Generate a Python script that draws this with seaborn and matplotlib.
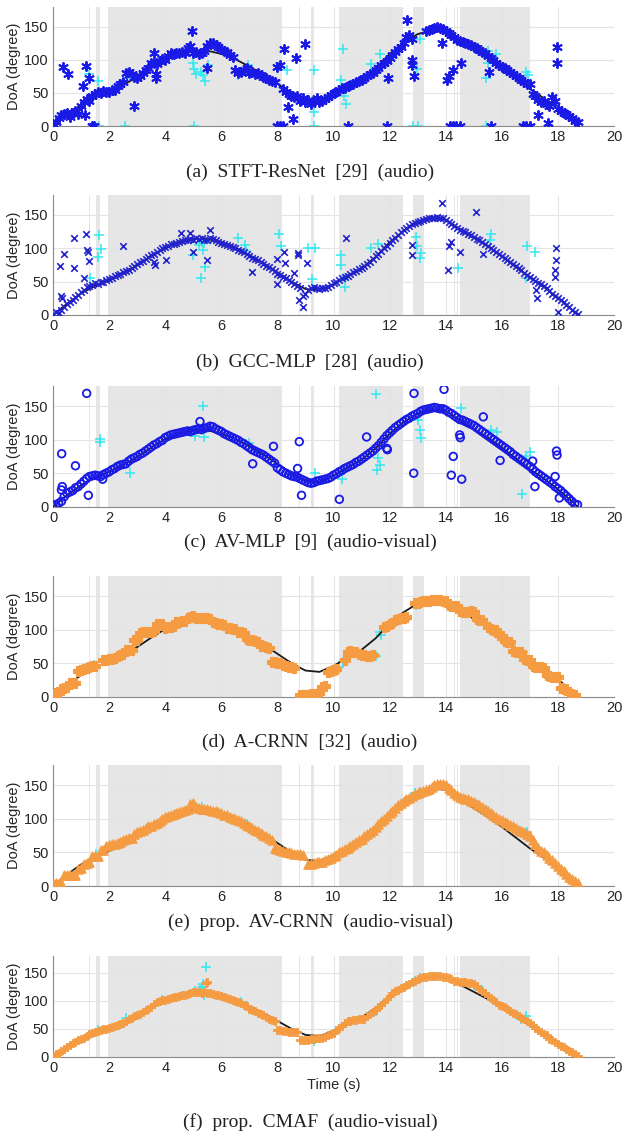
import numpy as np
import pandas as pd
import seaborn as sns
import matplotlib.pyplot as plt

nan = np.nan

# frame times (100 ms hop)
t_frame = np.round(np.arange(0, 18.75, 0.1), 1)

# ground truth DoA
gt_t = [0, 0.5, 1, 1.5, 2, 2.5, 3, 3.5, 4, 4.5, 5, 5.5, 6, 6.5, 7, 7.5, 8, 8.5, 9, 9.5,
        10, 10.5, 11, 11.5, 12, 12.5, 13, 13.5, 14, 14.5, 15, 15.5, 16, 16.5, 17, 17.5, 18, 18.5, 18.7]
gt_doa = [0, 17, 32, 44, 52, 62, 74, 88, 101, 109, 114, 114, 109, 101, 90, 78, 64, 50, 39, 37,
          46, 58, 70, 87, 109, 126, 139, 145, 143, 129, 116, 103, 88, 72, 56, 42, 26, 8, 0]

# shaded (speaker not visible) intervals
spans = [(1.27, 1.31), (1.55, 1.68), (1.97, 8.15), (8.76, 8.80), (9.20, 9.32),
         (10.18, 12.48), (12.85, 13.22), (14.30, 14.34), (14.40, 14.44), (14.52, 17.0)]

# (a) STFT-ResNet
a_est = [3, 6, 12, 16, 18, 19, 14, 20, 22, 18,
         30, 36, 41, 38, 46, 49, 52, 50, 53, 51,
         52, 55, 54, 60, 63, 66, 80, 82, 78, 74,
         72, 76, 80, 84, 88, 95, 96, 94, 98, 102,
         100, 106, 110, 109, 111, 110, 112, 110, 118, 121,
         110, 112, 109, 110, 113, 121, 126, 125, 123, 119,
         116, 114, 112, 108, 105, 84, 80, 82, 84, 88,
         80, 81, 79, 80, 77, 74, 73, 70, 68, 66,
         90, 93, 56, 52, 48, 45, 44, 46, 38, 42,
         36, 40, 34, 38, 42, 36, 38, 41, 44, 47,
         50, 52, 55, 57, 58, 60, 62, 64, 66, 68,
         70, 72, 76, 78, 80, 84, 88, 92, 96, 99,
         103, 108, 112, 116, 120, 126, 134, 138, 132, nan,
         nan, nan, nan, 143, 145, 147, 148, 149, 148, 146,
         144, 140, 138, 134, 130, 128, 127, 126, 124, 122,
         120, 118, 115, 112, 110, 106, 103, 100, 96, 93,
         90, 88, 85, 82, 78, 75, 72, 70, 66, 64,
         63, 48, 45, 40, 36, 38, 34, 30, 44, 38,
         25, 22, 20, 18, 15, 12, 8, 6]
a_out = [(0.35, 89), (0.52, 79), (1.06, 61), (1.18, 91), (1.3, 73), (1.14, 16), (1.38, 0), (1.45, 0),
         (0.05, 2), (2.9, 31), (3.61, 111), (3.67, 79), (3.67, 72), (4.94, 144), (5.49, 87),
         (8.0, 0), (8.1, 0), (8.2, 0), (8.25, 117), (8.37, 29), (8.57, 11), (8.66, 103), (8.98, 124),
         (10.5, 0), (11.9, 0), (11.93, 73), (12.62, 160), (12.8, 100), (12.8, 93), (12.86, 76),
         (13.86, 126), (14.05, 70), (14.1, 75), (14.25, 84), (14.55, 95), (14.15, 0), (14.25, 0),
         (14.35, 0), (14.5, 0), (15.56, 81), (15.6, 0), (16.75, 0), (16.85, 0), (17.0, 0),
         (17.3, 16), (17.66, 5), (17.97, 120), (17.97, 95)]
a_cyan = [(1.3, 78), (1.6, 68), (1.65, 0), (2.57, 0), (2.65, 72), (4.98, 96), (5.04, 86), (5.1, 78),
          (5.27, 82), (5.33, 77), (5.42, 68), (5.42, 112), (5.52, 92), (5.04, 0), (6.61, 77),
          (6.94, 93), (8.35, 85), (9.3, 84), (9.3, 21), (9.3, 0), (10.33, 116), (10.25, 69),
          (10.38, 46), (10.45, 34), (11.35, 94), (11.65, 109), (12.85, 0), (13.0, 0), (12.97, 86),
          (13.1, 131), (15.5, 114), (15.5, 95), (15.8, 109), (15.44, 73), (15.45, 0),
          (16.88, 81), (16.92, 77)]

# (b) GCC-MLP
b_est = [2, 4, 3, 8, 12, 16, 19, 22, 27, 30,
         35, 38, 42, 44, 45, 48, 47, 50, 49, 52,
         54, 56, 58, 60, 62, 64, 66, 68, 70, 74,
         76, 79, 81, 84, 87, 90, 92, 95, 97, 100,
         102, 104, 106, 107, 108, 110, 111, 112, 113, 114,
         113, 115, 114, 116, 113, 112, 115, 114, 112, 110,
         108, 107, 105, 104, 102, 100, 98, 96, 94, 91,
         88, 86, 84, 82, 79, 77, 74, 72, 69, 66,
         62, 60, 57, 55, 52, 50, 47, 44, 40, 28,
         32, 38, 40, 42, 40, 39, 40, 41, 42, 45,
         48, 50, 52, 55, 57, 59, 61, 64, 66, 69,
         71, 74, 77, 80, 84, 88, 92, 96, 100, 104,
         108, 112, 116, 120, 124, 128, 131, 133, 136, 138,
         140, 141, 142, 144, 145, 146, 146, 147, 146, 145,
         143, 140, 137, 134, 131, 128, 126, 124, 122, 120,
         117, 114, 112, 109, 106, 103, 100, 97, 94, 91,
         88, 85, 82, 79, 76, 73, 70, 67, 63, 60,
         57, 54, 51, 48, 46, 43, 40, 36, 32, 29,
         26, 22, 19, 15, 12, 8, 5, 2]
b_out = [(0.4, 92), (0.26, 73), (0.32, 25), (0.3, 28), (0.76, 116), (0.74, 71), (1.18, 122), (1.2, 97),
         (1.26, 94), (1.3, 81), (1.12, 55), (2.49, 103), (3.6, 80), (3.65, 75), (4.03, 83), (4.56, 123),
         (4.9, 123), (4.98, 94), (5.49, 83), (5.61, 128), (7.08, 65), (8.22, 94), (8.0, 46), (8.0, 84),
         (8.27, 78), (8.6, 63), (8.75, 93), (8.75, 90), (8.9, 12), (8.78, 22), (9.07, 78),
         (10.45, 116), (12.79, 105), (12.79, 90), (13.86, 168), (15.08, 154), (14.07, 67),
         (14.1, 103), (14.2, 110), (14.5, 95), (15.33, 92), (17.22, 37), (17.25, 25), (17.93, 100),
         (17.93, 82), (17.9, 68), (17.9, 57), (18.0, 5)]
b_cyan = [(1.65, 120), (1.7, 99), (1.6, 87), (1.33, 55), (5.2, 105), (5.3, 110), (5.35, 98), (5.4, 108),
          (5.42, 72), (5.27, 55), (5.0, 90), (6.6, 116), (6.85, 105), (6.88, 96), (8.07, 122),
          (8.13, 104), (9.1, 100), (9.33, 101), (9.25, 54), (10.25, 90), (10.25, 75), (10.36, 55),
          (10.4, 42), (11.35, 100), (11.6, 106), (12.94, 117), (12.99, 103), (13.1, 85), (13.12, 93),
          (14.43, 71), (15.6, 121), (15.58, 113), (16.9, 103), (17.2, 95), (16.85, 56)]

# (c) AV-MLP
c_est = [2, 3, 5, 8, 15, 20, 22, 24, 28, 30,
         34, 38, 42, 45, 46, 47, 46, 45, 48, 50,
         52, 55, 57, 60, 62, 63, 64, 68, 71, 73,
         75, 78, 80, 83, 86, 89, 92, 94, 97, 99,
         103, 105, 107, 108, 109, 110, 111, 112, 113, 112,
         114, 115, 116, 115, 117, 118, 120, 119, 116, 114,
         112, 109, 107, 105, 103, 101, 99, 96, 94, 91,
         88, 85, 83, 81, 79, 77, 74, 71, 68, 65,
         58, 55, 52, 50, 48, 46, 45, 44, 42, 40,
         38, 36, 35, 36, 38, 39, 40, 41, 42, 44,
         47, 49, 52, 54, 57, 59, 61, 63, 66, 68,
         71, 74, 77, 80, 83, 87, 91, 96, 101, 106,
         110, 114, 118, 121, 124, 127, 130, 132, 135, 137,
         139, 142, 144, 145, 146, 147, 148, 147, 146, 146,
         144, 141, 139, 136, 133, 130, 129, 127, 125, 123,
         121, 118, 115, 112, 109, 106, 103, 100, 97, 94,
         91, 88, 85, 82, 78, 75, 72, 69, 66, 63,
         60, 56, 52, 49, 46, 43, 40, 37, 34, 30,
         27, 24, 20, 16, 12, 8, 4, 3]
c_out = [(1.2, 169), (0.31, 79), (0.8, 61), (1.26, 17), (0.33, 30), (0.3, 25), (1.77, 41), (5.24, 127),
         (7.12, 64), (7.86, 90), (8.78, 97), (8.86, 17), (8.72, 57), (10.21, 11), (11.18, 104),
         (11.9, 87), (11.92, 85), (12.87, 169), (12.86, 50), (13.94, 175), (14.27, 75), (14.2, 47),
         (14.57, 41), (14.5, 107), (14.52, 103), (15.34, 134), (15.94, 69), (17.1, 68), (17.18, 30),
         (17.95, 83), (17.97, 77), (17.9, 45), (18.05, 13)]
c_cyan = [(1.66, 101), (1.68, 97), (2.74, 51), (5.34, 150), (5.07, 105), (5.4, 104), (5.2, 118),
          (7.0, 95), (9.35, 51), (10.25, 55), (10.3, 42), (11.52, 168), (11.6, 72), (11.65, 62),
          (11.55, 55), (13.0, 129), (13.08, 115), (13.12, 103), (14.55, 147), (15.84, 112),
          (15.6, 114), (16.71, 19), (17.0, 81), (16.85, 76)]

# (d) A-CRNN
d_est = [4, 5, 6, 12, 13, 14, 20, 21, 20, 39,
         40, 41, 43, 45, 46, 46, nan, nan, 54, 55,
         56, 56, 57, 61, 62, 63, 69, 70, 70, 84,
         85, 95, 96, 96, 97, 97, 98, 108, 109, 108,
         103, 104, 104, 105, 111, 112, 113, 113, 117, 119,
         120, 117, 117, 118, 117, 117, 116, 111, 110, 109,
         108, 107, 103, 102, 101, 101, 97, 96, 95, 86,
         85, 84, 83, 82, 76, 75, 74, 72, 52, 52,
         51, 51, 47, 46, 45, 44, 43, nan, 2, 2,
         3, 3, 4, 4, 4, 5, 15, 16, 37, 38,
         40, 42, nan, nan, 54, 67, 68, 67, 66, 63,
         62, 62, 61, 61, 62, nan, nan, nan, 104, 106,
         108, 110, 114, 116, 117, 118, 119, nan, nan, 139,
         140, 141, 142, 143, 143, 144, 144, 144, 144, 143,
         142, 137, 136, 136, 135, 128, 127, 126, 127, 128,
         126, 116, 115, 114, nan, 104, 101, 100, 99, 92,
         90, 83, 82, 81, 68, 67, 67, 66, 56, 55,
         54, 46, 45, 44, 44, 43, 32, 31, 30, 30,
         29, 13, 12, 11, 5, 4, 3, nan]
d_cyan = [(1.45, 48), (5.0, 117), (5.3, 118), (6.9, 88), (10.2, 45), (10.35, 52), (11.5, 61),
          (11.65, 96), (11.7, 92), (12.95, 137), (15.45, 110), (15.6, 103), (16.75, 66)]

# (e) prop. AV-CRNN
e_est = [4, 4, 5, 5, 16, 16, 17, 17, 17, 26,
         27, 33, 34, 35, 44, 44, 45, 53, 54, 60,
         61, 62, 63, 64, 66, 68, 70, 71, 72, 78,
         80, 82, 84, 87, 89, 90, 92, 94, 96, 99,
         102, 104, 106, 107, 109, 110, 112, 113, 114, 122,
         124, 118, 116, 115, 115, 114, 113, 112, 111, 110,
         108, 106, 105, 103, 101, 100, 98, 96, 93, 91,
         89, 86, 84, 82, 79, 76, 74, 71, 68, 56,
         55, 53, 52, 51, 50, 49, 48, 47, 47, 46,
         nan, 32, 33, 34, 35, 36, 36, 38, 40, 42,
         44, 46, 50, 52, 55, 57, 60, 63, 65, 68,
         70, 74, 77, 80, 84, 88, 92, 96, 100, 104,
         108, 112, 116, 120, 124, 126, 129, 131, 134, 137,
         139, 140, 141, 143, 145, 147, 150, 152, 152, 151,
         150, 146, 143, 139, 136, 133, 131, 130, 129, 127,
         125, 122, 120, 117, 114, 112, 108, 105, 102, 100,
         98, 95, 93, 91, 89, 87, 84, 82, 80, 77,
         74, 68, 62, 56, 52, 50, 46, 42, 38, 34,
         30, 26, 22, 18, 14, 11, 8, 5]
e_cyan = [(1.55, 48), (5.0, 120), (5.3, 117), (6.9, 92), (12.9, 138), (13.1, 140), (15.5, 112), (16.9, 80)]

# (f) prop. CMAF
f_est = [1, 4, 7, 10, 14, 18, 21, 24, 27, 29,
         32, 34, 37, 40, 42, 44, 46, 48, 49, 50,
         51, 53, 55, 57, 58, 60, 63, 68, 70, 72,
         74, 77, 80, 83, 86, 89, 94, 98, 100, 101,
         102, 104, 105, 106, 107, 109, 110, 111, 112, 113,
         115, 116, 115, 114, 115, 113, 113, 112, 111, 110,
         108, 107, 105, 104, 102, 100, 98, 96, 93, 90,
         86, 84, 82, 79, 77, 74, 71, 68, 66, 64,
         48, 47, 46, 46, 45, 45, 45, 44, 30, 29,
         30, 30, 31, 32, 33, 33, 34, 36, 38, 40,
         43, 47, 51, 55, 60, 64, 64, 65, 66, 67,
         67, 68, 72, 76, 80, 84, 88, 93, 97, 103,
         108, 113, 117, 120, 123, 125, 128, 130, 133, 136,
         138, 140, 142, 143, 144, 144, 144, 144, 144, 143,
         142, 140, 138, 136, 135, 134, 133, 133, 132, 131,
         130, 126, 121, 117, 113, 109, 105, 101, 97, 93,
         91, 88, 85, 82, 79, 76, 73, 70, 67, 63,
         60, 56, 52, 48, 44, 41, 38, 32, 30, 27,
         23, 20, 17, 14, 11, 8, 5, 2]
f_out = [(5.5, 133), (5.45, 131)]
f_cyan = [(5.45, 160), (5.35, 130), (5.3, 125), (5.25, 120), (5.05, 118), (5.4, 110), (1.6, 47),
          (1.3, 38), (2.6, 70), (3.9, 102), (6.7, 98), (6.9, 90), (9.3, 28), (10.2, 50), (11.5, 82),
          (12.9, 136), (13.1, 140), (15.0, 128), (15.3, 120), (16.7, 68), (16.85, 72)]

captions = ['(a)  STFT-ResNet  [29]  (audio)', '(b)  GCC-MLP  [28]  (audio)',
            '(c)  AV-MLP  [9]  (audio-visual)', '(d)  A-CRNN  [32]  (audio)',
            '(e)  prop.  AV-CRNN  (audio-visual)', '(f)  prop.  CMAF  (audio-visual)']

BLUE = '#1a1ae6'
ORANGE = '#f59b41'
CYAN = '#33e8f0'

panels = [
    dict(est=a_est, out=a_out, cyan=a_cyan, marker=(6, 2, 0), s=42, lw=1.4, color=BLUE, filled=False),
    dict(est=b_est, out=b_out, cyan=b_cyan, marker='x', s=22, lw=1.2, color='#2222cc', filled=False),
    dict(est=c_est, out=c_out, cyan=c_cyan, marker='o', s=30, lw=1.3, color=BLUE, filled='open'),
    dict(est=d_est, out=[], cyan=d_cyan, marker='P', s=60, lw=0.8, color=ORANGE, filled=True),
    dict(est=e_est, out=[], cyan=e_cyan, marker='^', s=45, lw=0.8, color=ORANGE, filled=True),
    dict(est=f_est, out=f_out, cyan=f_cyan, marker='P', s=32, lw=0.6, color=ORANGE, filled=True),
]

# pixel layout: (top, bottom) of each axes, caption centre
boxes = [(7, 126), (195, 315), (386, 506.7), (576, 696.7), (765, 886), (956, 1056.7)]
cap_y = [172, 362, 542, 742, 922, 1122]

sns.set_theme(style='white')
plt.rcParams['font.family'] = ['Liberation Sans', 'DejaVu Sans']

W, H = 624, 1133
fig = plt.figure(figsize=(W / 100, H / 100), dpi=100)

for i, p in enumerate(panels):
    top, bot = boxes[i]
    ax = fig.add_axes([53 / W, 1 - bot / H, (614 - 53) / W, (bot - top) / H])
    for s0, s1 in spans:
        ax.axvspan(s0, s1, color='#e6e6e6', lw=0, zorder=0)

    cy = pd.DataFrame(p['cyan'], columns=['t', 'doa'])
    sns.scatterplot(data=cy, x='t', y='doa', ax=ax, marker='+', s=45, color=CYAN,
                    linewidth=1.1, zorder=2, legend=False)

    sns.lineplot(x=gt_t, y=gt_doa, ax=ax, color='k', lw=1.3, zorder=3)

    est = pd.DataFrame({'t': t_frame, 'doa': p['est']}).dropna()
    if p['out']:
        est = pd.concat([est, pd.DataFrame(p['out'], columns=['t', 'doa'])])
    kw = dict(marker=p['marker'], s=p['s'], linewidth=p['lw'], zorder=4, legend=False)
    if p['filled'] == 'open':
        kw.update(facecolor='none', edgecolor=p['color'])
    elif p['filled']:
        kw.update(color=p['color'], edgecolor=p['color'])
    else:
        kw.update(color=p['color'])
    sns.scatterplot(data=est, x='t', y='doa', ax=ax, **kw)

    ax.set_xlim(0, 20)
    ax.set_ylim(0, 180)
    ax.set_xticks(range(0, 21, 2))
    ax.set_yticks([0, 50, 100, 150])
    ax.grid(True, color='#e4e4e4', lw=0.8)
    ax.set_axisbelow(True)
    for side in ['top', 'right']:
        ax.spines[side].set_visible(False)
    for side in ['left', 'bottom']:
        ax.spines[side].set_color('#8a8a8a')
        ax.spines[side].set_linewidth(0.8)
    ax.tick_params(direction='in', length=3, labelsize=10.5, pad=3, colors='#8a8a8a',
                   labelcolor='#262626')
    ax.set_ylabel('DoA (degree)', fontsize=10.5, color='#262626', labelpad=2)
    ax.set_xlabel('Time (s)' if i == 5 else '', fontsize=10.5, color='#262626', labelpad=2)

    fig.text(310 / W, 1 - cap_y[i] / H, captions[i], ha='center', va='center',
             family=['Liberation Serif', 'DejaVu Serif'], fontsize=14, color='#222222')

fig.savefig('out.png', dpi=100)
